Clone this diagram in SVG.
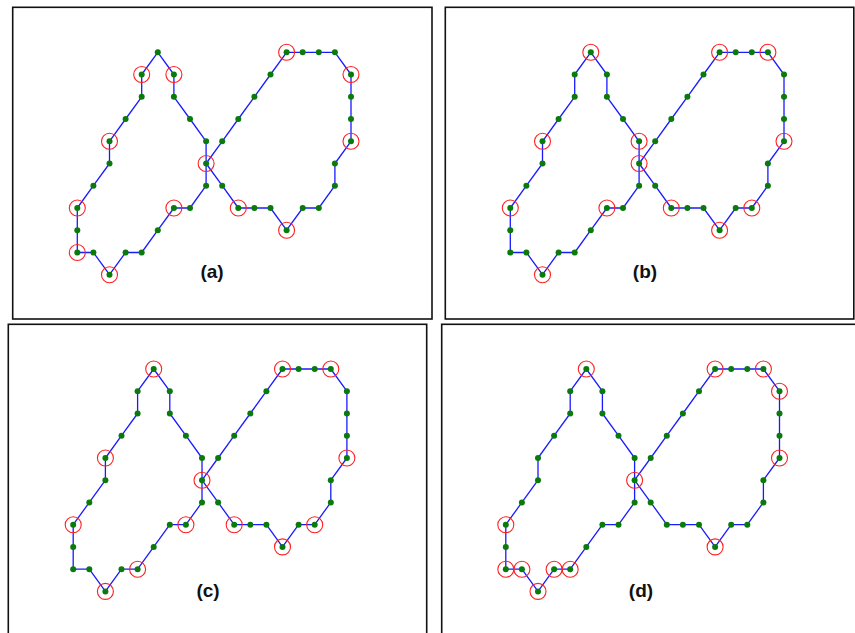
<svg xmlns="http://www.w3.org/2000/svg" xmlns:xlink="http://www.w3.org/1999/xlink" width="855" height="633" viewBox="0 0 855 633">
<style>
.frame{fill:none;stroke:#111;stroke-width:1.6}
.curve{fill:none;stroke:#1a1aff;stroke-width:1.3;stroke-linejoin:round}
.dot{fill:#0a7a0a}
.sel{fill:none;stroke:#ff2020;stroke-width:1.1}
.lbl{font-family:"Liberation Sans",Arial,sans-serif;font-weight:bold;font-size:19px;fill:#111;text-anchor:middle}
</style>
<defs>
<polygon id="curve" class="curve" points="80.5,0 64.4,22.2 64.4,44.5 48.3,66.7 32.2,89 32.2,111.2 16.1,133.4 0,155.7 0,177.9 0,200.2 16.1,200.2 32.2,222.4 48.3,200.2 64.4,200.2 80.5,177.9 96.6,155.7 112.7,155.7 128.8,133.4 128.8,111.2 144.9,89 161,66.7 177.1,44.5 193.2,22.2 209.3,0 225.4,0 241.5,0 257.6,0 273.7,22.2 273.7,44.5 273.7,66.7 273.7,89 257.6,111.2 257.6,133.4 241.5,155.7 225.4,155.7 209.3,177.9 193.2,155.7 177.1,155.7 161,155.7 144.9,133.4 128.8,111.2 128.8,89 112.7,66.7 96.6,44.5 96.6,22.2"/>
<g id="dots" class="dot">
<circle cx="80.5" cy="0" r="3"/><circle cx="64.4" cy="22.2" r="3"/><circle cx="64.4" cy="44.5" r="3"/><circle cx="48.3" cy="66.7" r="3"/><circle cx="32.2" cy="89" r="3"/><circle cx="32.2" cy="111.2" r="3"/><circle cx="16.1" cy="133.4" r="3"/><circle cx="0" cy="155.7" r="3"/><circle cx="0" cy="177.9" r="3"/><circle cx="0" cy="200.2" r="3"/><circle cx="16.1" cy="200.2" r="3"/><circle cx="32.2" cy="222.4" r="3"/><circle cx="48.3" cy="200.2" r="3"/><circle cx="64.4" cy="200.2" r="3"/><circle cx="80.5" cy="177.9" r="3"/><circle cx="96.6" cy="155.7" r="3"/><circle cx="112.7" cy="155.7" r="3"/><circle cx="128.8" cy="133.4" r="3"/><circle cx="128.8" cy="111.2" r="3"/><circle cx="144.9" cy="89" r="3"/><circle cx="161" cy="66.7" r="3"/><circle cx="177.1" cy="44.5" r="3"/><circle cx="193.2" cy="22.2" r="3"/><circle cx="209.3" cy="0" r="3"/><circle cx="225.4" cy="0" r="3"/><circle cx="241.5" cy="0" r="3"/><circle cx="257.6" cy="0" r="3"/><circle cx="273.7" cy="22.2" r="3"/><circle cx="273.7" cy="44.5" r="3"/><circle cx="273.7" cy="66.7" r="3"/><circle cx="273.7" cy="89" r="3"/><circle cx="257.6" cy="111.2" r="3"/><circle cx="257.6" cy="133.4" r="3"/><circle cx="241.5" cy="155.7" r="3"/><circle cx="225.4" cy="155.7" r="3"/><circle cx="209.3" cy="177.9" r="3"/><circle cx="193.2" cy="155.7" r="3"/><circle cx="177.1" cy="155.7" r="3"/><circle cx="161" cy="155.7" r="3"/><circle cx="144.9" cy="133.4" r="3"/><circle cx="128.8" cy="89" r="3"/><circle cx="112.7" cy="66.7" r="3"/><circle cx="96.6" cy="44.5" r="3"/><circle cx="96.6" cy="22.2" r="3"/>
</g>
</defs>
<rect width="855" height="633" fill="#fff"/>

<g id="panel-a">
<rect class="frame" x="12.7" y="7.3" width="419.3" height="311.7"/>
<g id="connectors-a" transform="translate(77.3,52.3)"><use href="#curve" xlink:href="#curve"/></g>
<g id="nodes-a" transform="translate(77.3,52.3)">
<use href="#dots" xlink:href="#dots"/>
<g class="sel">
<circle cx="64.4" cy="22.2" r="8"/><circle cx="96.6" cy="22.2" r="8"/><circle cx="32.2" cy="89" r="8"/><circle cx="128.8" cy="111.2" r="8"/><circle cx="0" cy="155.7" r="8"/><circle cx="96.6" cy="155.7" r="8"/><circle cx="161" cy="155.7" r="8"/><circle cx="0" cy="200.2" r="8"/><circle cx="32.2" cy="222.4" r="8"/><circle cx="209.3" cy="0" r="8"/><circle cx="273.7" cy="22.2" r="8"/><circle cx="273.7" cy="89" r="8"/><circle cx="209.3" cy="177.9" r="8"/>
</g>
</g>
<text class="lbl" x="212" y="278">(a)</text>
</g>

<g id="panel-b">
<rect class="frame" x="445.3" y="7.3" width="408.5" height="311.7"/>
<g id="connectors-b" transform="translate(510.3,52.3)"><use href="#curve" xlink:href="#curve"/></g>
<g id="nodes-b" transform="translate(510.3,52.3)">
<use href="#dots" xlink:href="#dots"/>
<g class="sel">
<circle cx="80.5" cy="0" r="8"/><circle cx="32.2" cy="89" r="8"/><circle cx="128.8" cy="89" r="8"/><circle cx="128.8" cy="111.2" r="8"/><circle cx="0" cy="155.7" r="8"/><circle cx="96.6" cy="155.7" r="8"/><circle cx="161" cy="155.7" r="8"/><circle cx="32.2" cy="222.4" r="8"/><circle cx="209.3" cy="0" r="8"/><circle cx="257.6" cy="0" r="8"/><circle cx="273.7" cy="89" r="8"/><circle cx="209.3" cy="177.9" r="8"/><circle cx="241.5" cy="155.7" r="8"/>
</g>
</g>
<text class="lbl" x="645" y="278">(b)</text>
</g>

<g id="panel-c">
<rect class="frame" x="8.3" y="324.3" width="418.4" height="320"/>
<g id="connectors-c" transform="translate(73.2,369)"><use href="#curve" xlink:href="#curve"/></g>
<g id="nodes-c" transform="translate(73.2,369)">
<use href="#dots" xlink:href="#dots"/>
<g class="sel">
<circle cx="80.5" cy="0" r="8"/><circle cx="32.2" cy="89" r="8"/><circle cx="0" cy="155.7" r="8"/><circle cx="128.8" cy="111.2" r="8"/><circle cx="112.7" cy="155.7" r="8"/><circle cx="161" cy="155.7" r="8"/><circle cx="64.4" cy="200.2" r="8"/><circle cx="32.2" cy="222.4" r="8"/><circle cx="209.3" cy="0" r="8"/><circle cx="257.6" cy="0" r="8"/><circle cx="273.7" cy="89" r="8"/><circle cx="209.3" cy="177.9" r="8"/><circle cx="241.5" cy="155.7" r="8"/>
</g>
</g>
<text class="lbl" x="208" y="597">(c)</text>
</g>

<g id="panel-d">
<rect class="frame" x="441.7" y="324.3" width="420" height="320"/>
<g id="connectors-d" transform="translate(505.8,369)"><use href="#curve" xlink:href="#curve"/></g>
<g id="nodes-d" transform="translate(505.8,369)">
<use href="#dots" xlink:href="#dots"/>
<g class="sel">
<circle cx="80.5" cy="0" r="8"/><circle cx="0" cy="155.7" r="8"/><circle cx="0" cy="200.2" r="8"/><circle cx="16.1" cy="200.2" r="8"/><circle cx="32.2" cy="222.4" r="8"/><circle cx="48.3" cy="200.2" r="8"/><circle cx="64.4" cy="200.2" r="8"/><circle cx="128.8" cy="111.2" r="8"/><circle cx="209.3" cy="0" r="8"/><circle cx="257.6" cy="0" r="8"/><circle cx="273.7" cy="22.2" r="8"/><circle cx="273.7" cy="89" r="8"/><circle cx="209.3" cy="177.9" r="8"/>
</g>
</g>
<text class="lbl" x="641" y="597">(d)</text>
</g>
</svg>
